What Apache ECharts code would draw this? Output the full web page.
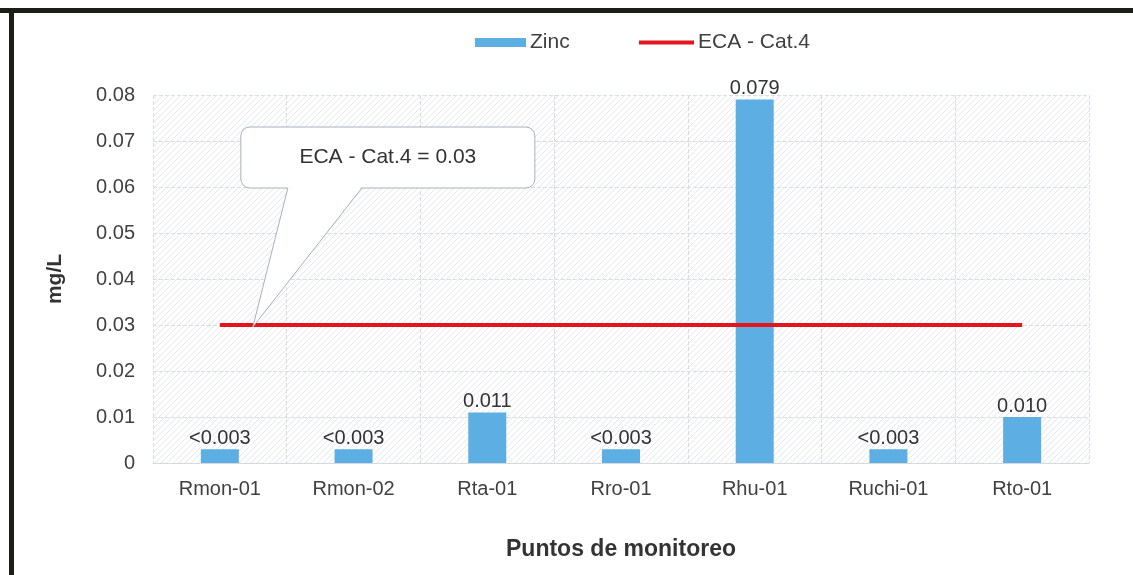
<!DOCTYPE html>
<html><head><meta charset="utf-8">
<script src="https://cdn.jsdelivr.net/npm/echarts@6/dist/echarts.min.js"></script>
<style>html,body{margin:0;padding:0;background:#fff}#c{width:1133px;height:575px}</style>
</head><body><div id="c"></div>
<script>
const categories = ['Rmon-01','Rmon-02','Rta-01','Rro-01','Rhu-01','Ruchi-01','Rto-01'];
const zincValues = [0.003,0.003,0.011,0.003,0.079,0.003,0.010];
const zincLabels = ['<0.003','<0.003','0.011','<0.003','0.079','<0.003','0.010'];
const ecaValues = [0.03,0.03,0.03,0.03,0.03,0.03,0.03];
const ecaLimit = 0.03;
const calloutText = 'ECA - Cat.4 = 0.03';

// faint diagonal hatch pattern
const pc = document.createElement('canvas'); pc.width = 6; pc.height = 6;
const px = pc.getContext('2d');
px.fillStyle = '#ffffff'; px.fillRect(0,0,6,6);
px.strokeStyle = 'rgba(200,205,215,0.45)'; px.lineWidth = 1;
px.beginPath(); px.moveTo(0,6); px.lineTo(6,0); px.stroke();

const font = 'Liberation Sans, Arial, sans-serif';
const txt = '#404040';
const chart = echarts.init(document.getElementById('c'));
chart.setOption({
  animation:false,
  textStyle:{fontFamily:font},
  grid:{left:153,right:44,top:95,bottom:112,show:true,borderWidth:0,backgroundColor:{image:pc,repeat:'repeat'}},
  legend:[
    {data:['Zinc'],left:470,top:27,itemWidth:51,itemHeight:9,itemGap:6,icon:'rect',textStyle:{fontSize:21,color:txt,fontFamily:font,padding:[0,0,0,-1]}},
    {data:['ECA - Cat.4'],left:634,top:27,itemWidth:55,itemHeight:4,itemGap:4,icon:'rect',textStyle:{fontSize:21,color:txt,fontFamily:font,padding:[0,0,0,-1]}}
  ],
  xAxis:{type:'category',data:categories,
    name:'Puntos de monitoreo',nameLocation:'middle',nameGap:75,
    nameTextStyle:{fontSize:23,fontWeight:'bold',color:'#333',fontFamily:font},
    axisLine:{lineStyle:{color:'#d5d9e0'}},axisTick:{show:false},
    axisLabel:{fontSize:20,color:txt,margin:16,fontFamily:font},
    splitLine:{show:true,interval:0,lineStyle:{color:'#d8dde6',type:'dashed'}}},
  yAxis:{type:'value',min:0,max:0.08,interval:0.01,
    name:'mg/L',nameLocation:'middle',nameGap:87,nameRotate:90,
    nameTextStyle:{fontSize:21,fontWeight:'bold',color:'#333',fontFamily:font},
    axisLine:{show:false},axisTick:{show:false},
    axisLabel:{fontSize:20,color:txt,margin:18,fontFamily:font,formatter:v=>v===0?'0':v.toFixed(2)},
    splitLine:{lineStyle:{color:'#d8dde6',type:'dashed'}}},
  series:[
    {name:'Zinc',type:'bar',data:zincValues,barWidth:38,itemStyle:{color:'#5daee2'},
      label:{show:true,position:'top',distance:1,fontSize:20,color:'#333',fontFamily:font,formatter:p=>zincLabels[p.dataIndex]}},
    {name:'ECA - Cat.4',type:'line',data:ecaValues,symbol:'none',lineStyle:{color:'#e3161d',width:4},itemStyle:{color:'#e3161d'},z:5}
  ]
});

// callout anchored on the ECA line
const a = chart.convertToPixel({xAxisIndex:0,yAxisIndex:0},[0,ecaLimit]);
const tx = a[0]+33, ty = a[1]+2;
const L = tx-12, R = tx+282, T = ty-200, B = ty-139;
const p1 = tx+35, p2 = tx+109;
chart.setOption({graphic:[
  {type:'rect',shape:{x:L,y:T,width:R-L,height:B-T,r:9},style:{fill:'#fff',stroke:'#a9b0bf',lineWidth:1},z:100},
  {type:'polygon',shape:{points:[[p1,B-1.5],[p2,B-1.5],[tx,ty]]},style:{fill:'#fff'},z:101},
  {type:'polyline',shape:{points:[[p1,B],[tx,ty],[p2,B]]},style:{stroke:'#a9b0bf',lineWidth:1,fill:null},z:102},
  {type:'text',x:(L+R)/2,y:(T+B)/2,style:{text:calloutText,font:'21px '+font,fill:'#333',align:'center',verticalAlign:'middle'},z:103},
  {type:'rect',shape:{x:0,y:8,width:1133,height:5},style:{fill:'#1b1d17'},z:200},
  {type:'rect',shape:{x:9,y:8,width:5,height:567},style:{fill:'#1b1d17'},z:200}
]});
</script></body></html>
